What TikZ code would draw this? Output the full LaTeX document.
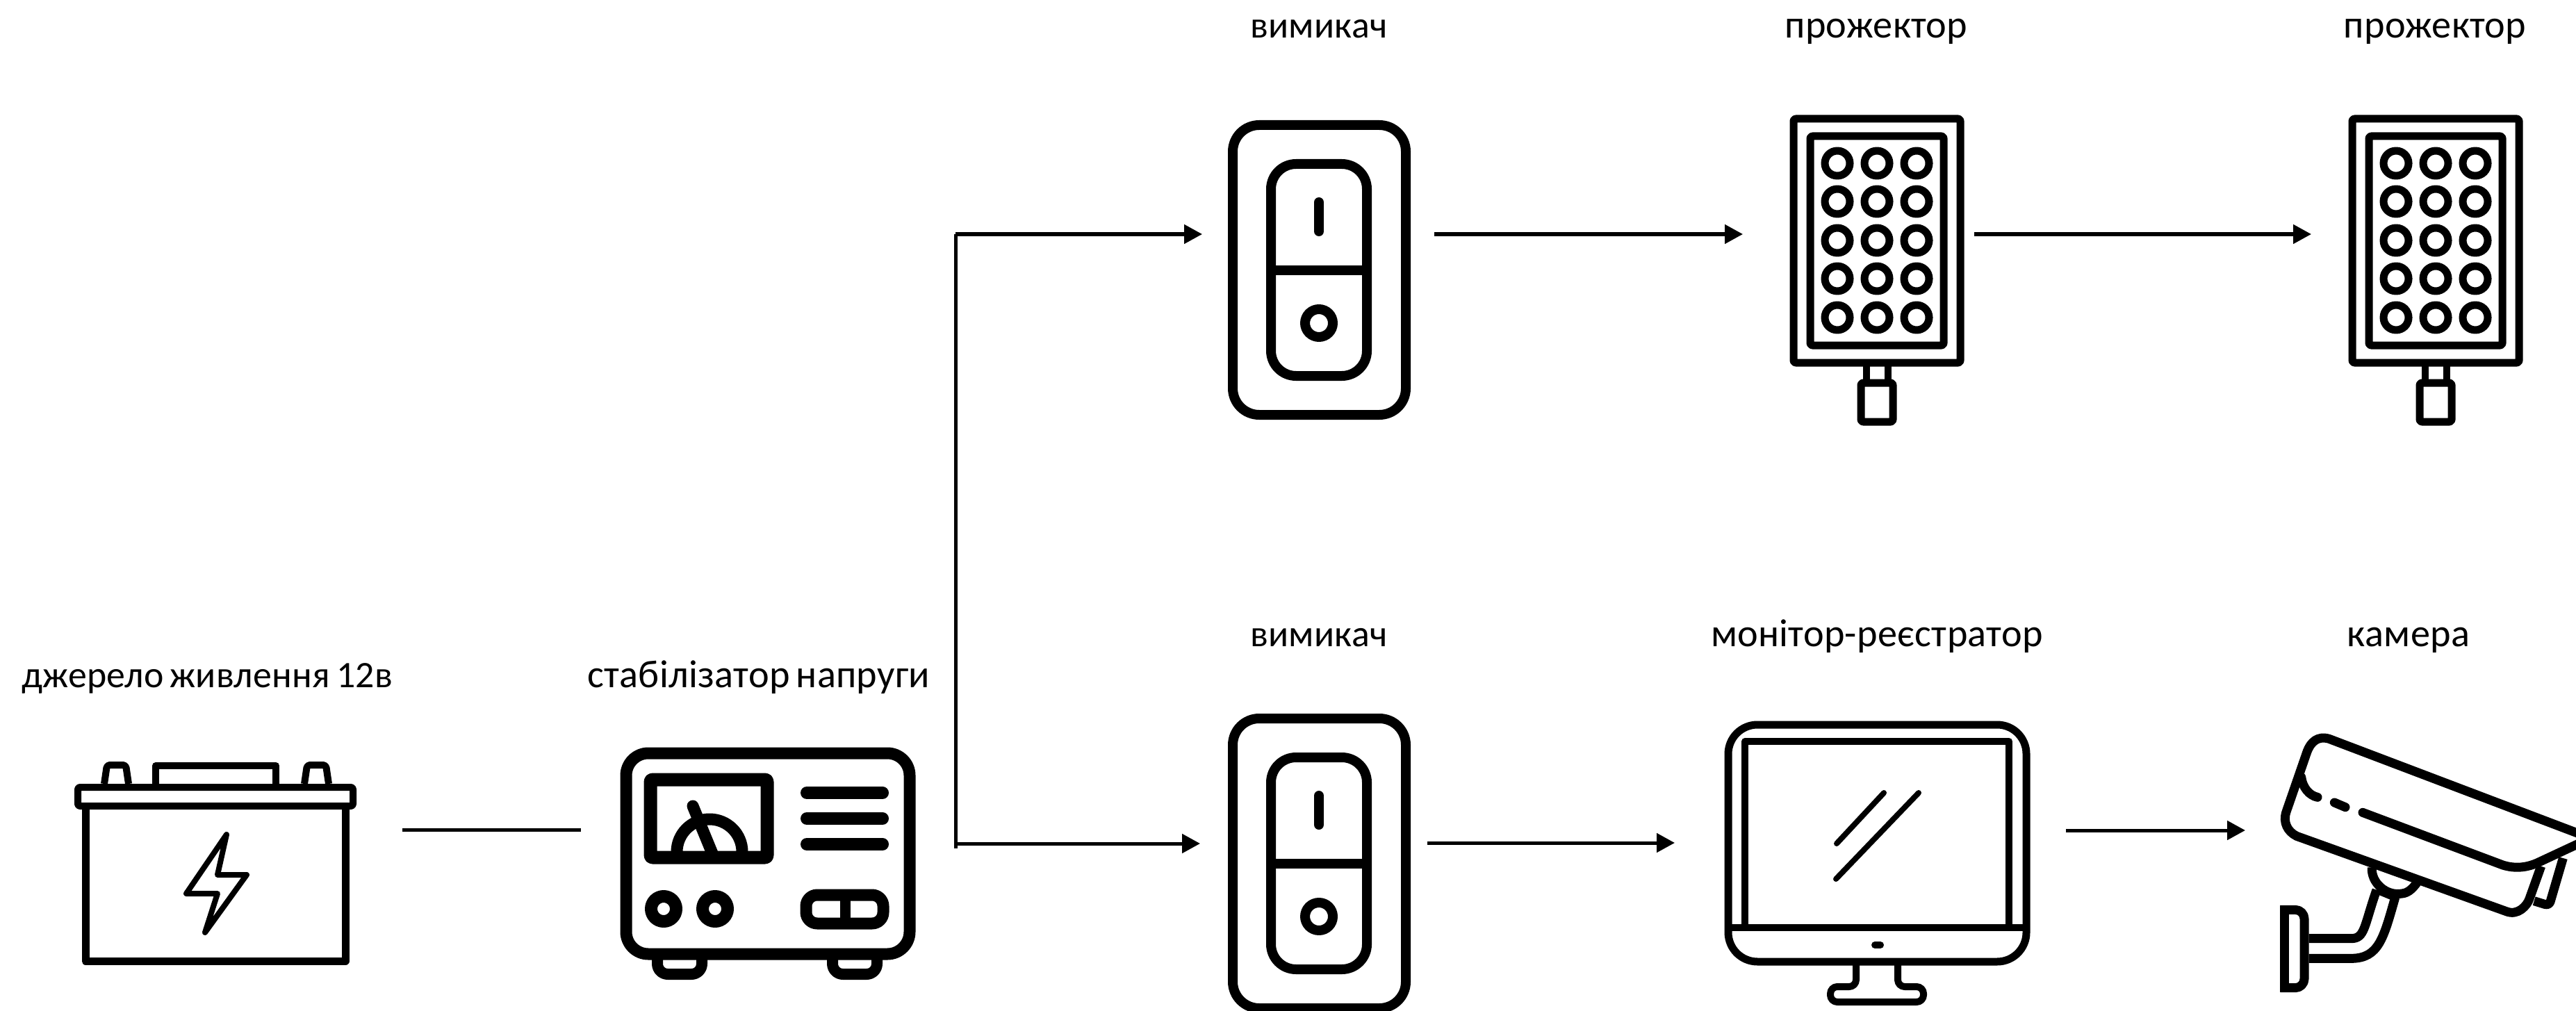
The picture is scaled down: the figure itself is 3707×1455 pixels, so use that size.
\documentclass[tikz,border=0pt]{standalone}
\usepackage{fontspec}
\setmainfont[LetterSpace=0.5,WordSpace=0.7]{Carlito}
\usetikzlibrary{arrows.meta}
\tikzset{
  lbl/.style={inner sep=0pt,anchor=base,font=\fontsize{16}{18}\selectfont,text=black},
  lblnarrow/.style={lbl,font=\fontsize{15.3}{18}\selectfont},
  conn/.style={line width=0.05cm,black},
  arrowconn/.style={conn,-{Triangle[length=0.26cm,width=0.27cm,sep=0pt]}},
  icon/.style={line width=#1*0.01cm,black,line join=round},
  icon/.default=10,
}
\begin{document}
\begin{tikzpicture}[x=0.01cm,y=-0.01cm]
\useasboundingbox (0,0) rectangle (3707,1455);
\clip (0,0) rectangle (3707,1455);
% ---------- labels
\node[lblnarrow] (l1) at (298,989) {джерело живлення 12в};
\node[lbl] (l2) at (1092,989) {стабілізатор напруги};
\node[lblnarrow] (l3) at (1898,55) {вимикач};
\node[lbl] (l4) at (2700,55) {прожектор};
\node[lbl] (l5) at (3504,55) {прожектор};
\node[lblnarrow] (l6) at (1898,930) {вимикач};
\node[lbl] (l7) at (2701,930) {монітор-реєстратор};
\node[lbl] (l8) at (3466,930) {камера};
% ---------- battery
\draw[icon=10,rounded corners=0.03cm] (112,1133) rectangle (508,1160);
\draw[icon=11] (123,1165) -- (123,1383) -- (497,1383) -- (497,1165);
\draw[icon=10,rounded corners=0.04cm] (150,1128) -- (154,1101) -- (181,1101) -- (185,1128);
\draw[icon=10] (224,1128) -- (224,1102) -- (397,1102) -- (397,1128);
\draw[icon=10,rounded corners=0.04cm] (438,1128) -- (442,1101) -- (469,1101) -- (473,1128);
\draw[icon=8] (326,1201) -- (268,1286) -- (313,1286) -- (295,1342) -- (355,1259) -- (313,1259) -- cycle;
% ---------- stabiliser
\draw[icon=16,rounded corners=0.15cm] (946,1375) -- (946,1402) -- (1010,1402) -- (1010,1375);
\draw[icon=16,rounded corners=0.15cm] (1198,1375) -- (1198,1402) -- (1262,1402) -- (1262,1375);
\draw[icon=17,rounded corners=0.32cm] (901,1084) rectangle (1309,1373);
\draw[icon=19,rounded corners=0.03cm] (936,1122) rectangle (1104,1234);
\draw[icon=17] (974,1226) arc[start angle=180,end angle=360,x radius=47,y radius=47];
\draw[icon=17,line cap=round] (997,1160) -- (1025,1228);
\foreach \y in {1141,1178,1215}{\draw[icon=18,line cap=round] (1161,\y) -- (1270,\y);}
\draw[icon=18] (955,1308) circle[radius=18];
\draw[icon=18] (1029,1308) circle[radius=18];
\draw[icon=17,rounded corners=0.16cm] (1160,1288) rectangle (1271,1329);
\draw[icon=15] (1216,1288) -- (1216,1329);
% ---------- switches
\foreach \dy in {0,854}{
\begin{scope}[shift={(0,\dy)}]
\draw[icon=14,rounded corners=0.38cm] (1774,180) rectangle (2023,597);
\draw[icon=14,rounded corners=0.36cm] (1829,236) rectangle (1967,541);
\draw[icon=14] (1829,389) -- (1967,389);
\draw[icon=14,line cap=round] (1898,291) -- (1898,333);
\draw[icon=14] (1898,465) circle[radius=20];
\end{scope}}
% ---------- projectors
\foreach \dx in {0,804}{
\begin{scope}[shift={(\dx,0)}]
\draw[icon=11,rounded corners=0.03cm] (2581,171) rectangle (2821,522);
\draw[icon=11,rounded corners=0.03cm] (2605,196) rectangle (2797,497);
\foreach \cx in {2644,2701,2758}\foreach \cy in {235,290,346,401,457}{\draw[icon=11] (\cx,\cy) circle[radius=18];}
\draw[icon=10] (2686,527) -- (2686,548) (2717,527) -- (2717,548);
\draw[icon=11,rounded corners=0.03cm] (2678,551) rectangle (2724,607);
\end{scope}}
% ---------- monitor
\draw[icon=11,rounded corners=0.42cm] (2487,1043) rectangle (2916,1384);
\draw[icon=10] (2511,1335) -- (2511,1067) -- (2891,1067) -- (2891,1335);
\draw[icon=10] (2487,1335) -- (2916,1335);
\draw[icon=10,line cap=round] (2698,1360) -- (2706,1360);
\draw[icon=8,line cap=round] (2711,1141) -- (2643,1214);
\draw[icon=8,line cap=round] (2761,1141) -- (2642,1265);
\draw[icon=10,rounded corners=0.10cm] (2671,1386) -- (2671,1420) -- (2634,1420) -- (2634,1442) -- (2768,1442) -- (2768,1420) -- (2731,1420) -- (2731,1386);
% ---------- camera (coordinates in 3x crop units)
\begin{scope}[shift={(3260,1040)},x=0.01cm/3,y=-0.01cm/3]
\begin{scope}
\clip (63,0) rectangle (1341,1245);
\draw[icon=13,rounded corners=0.13cm] (30,808) rectangle (168,1145);
\draw[icon=13] (83,808) -- (83,1145);
\draw[icon=13] (1400,497) -- (275,70) .. controls (225,55) and (195,85) .. (180,125) -- (90,385) .. controls (75,430) and (95,470) .. (135,490) -- (1040,815) .. controls (1090,835) and (1130,790) .. (1140,760) -- (1190,620);
\draw[icon=13,line cap=round] (420,388) -- (1025,615) .. controls (1080,632) and (1130,625) .. (1175,605) -- (1400,500);
\draw[icon=13,line cap=round] (155,235) .. controls (160,280) and (190,315) .. (225,322);
\draw[icon=13,line cap=round] (298,345) -- (345,365);
\draw[icon=13,rounded corners=0.06cm] (1285,585) -- (1225,790) -- (1160,770);
\draw[icon=13] (460,625) .. controls (455,690) and (520,750) .. (590,738) .. controls (620,735) and (640,710) .. (655,690);
\draw[icon=13] (188,932) -- (370,932) .. controls (430,932) and (425,880) .. (480,722);
\draw[icon=13] (188,1018) -- (370,1018) .. controls (490,1018) and (510,930) .. (560,755);
\draw[icon=11] (480,722) -- (560,755);
\end{scope}
\end{scope}
% ---------- connector anchors
\coordinate (batOut) at (579,1194);
\coordinate (stabIn) at (836,1194);
\coordinate (busTop) at (1375,337);
\coordinate (busBot) at (1375,1214);
\coordinate (busEnd) at (1375,1221);
\coordinate (sw1In) at (1730,337);
\coordinate (sw2In) at (1727,1214);
\coordinate (sw1Out) at (2064,337);
\coordinate (p1In) at (2508,337);
\coordinate (p1Out) at (2841,337);
\coordinate (p2In) at (3326,337);
\coordinate (sw2Out) at (2054,1213);
\coordinate (monIn) at (2410,1213);
\coordinate (monOut) at (2973,1195);
\coordinate (camIn) at (3231,1195);
\draw[conn] (batOut) -- (stabIn);
\draw[conn] (busEnd) -- (busTop);
\draw[arrowconn] (busTop) -- (sw1In);
\draw[arrowconn] (busBot) -- (sw2In);
\draw[arrowconn] (sw1Out) -- (p1In);
\draw[arrowconn] (p1Out) -- (p2In);
\draw[arrowconn] (sw2Out) -- (monIn);
\draw[arrowconn] (monOut) -- (camIn);
\end{tikzpicture}
\end{document}
